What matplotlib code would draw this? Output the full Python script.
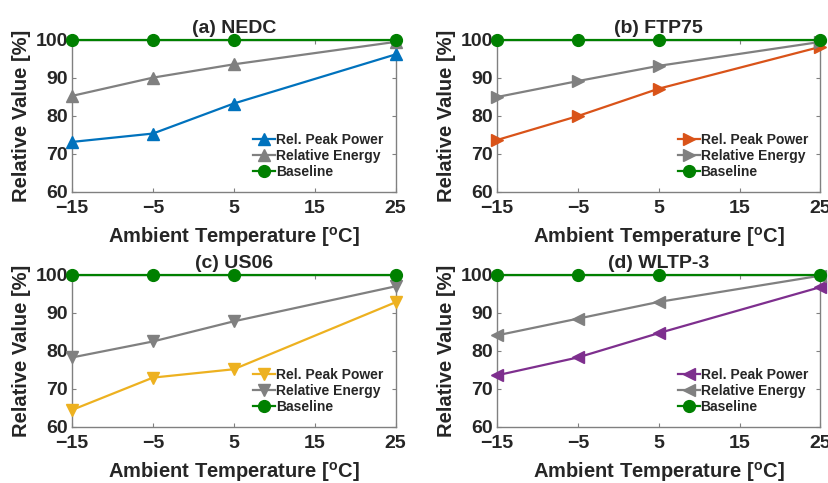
import matplotlib.pyplot as plt

plt.rcParams['font.family'] = ['Liberation Sans', 'DejaVu Sans']
plt.rcParams['font.weight'] = 'bold'
plt.rcParams['mathtext.fontset'] = 'custom'
plt.rcParams['mathtext.bf'] = 'Liberation Sans:bold'
plt.rcParams['mathtext.rm'] = 'Liberation Sans:bold'

temps = [-15, -5, 5, 25]
baseline = [100, 100, 100, 100]

titles = ['(a) NEDC', '(b) FTP75', '(c) US06', '(d) WLTP-3']
peak_power = [
    [73.1, 75.3, 83.2, 96.1],
    [73.6, 79.9, 87.1, 98.1],
    [64.4, 72.9, 75.1, 92.7],
    [73.5, 78.2, 84.6, 96.7],
]
rel_energy = [
    [85.2, 90.0, 93.5, 99.4],
    [84.9, 89.1, 93.1, 99.4],
    [78.2, 82.4, 87.7, 96.9],
    [84.0, 88.4, 92.8, 99.7],
]
peak_colors = ['#0072BD', '#D95319', '#EDB120', '#7E2F8E']
markers = ['^', '>', 'v', '<']

gray = '#808080'
green = '#008000'
txt = '#262626'

fig = plt.figure(figsize=(8.29, 4.83), dpi=100)
lefts = [0.0869, 0.5995, 0.0869, 0.5995]
bottoms = [0.603, 0.603, 0.1166, 0.1166]

for i in range(4):
    ax = fig.add_axes([lefts[i], bottoms[i], 0.3902, 0.3150])
    ax.plot(temps, peak_power[i], color=peak_colors[i], marker=markers[i],
            lw=1.6, ms=9, label='Rel. Peak Power', clip_on=False, zorder=3)
    ax.plot(temps, rel_energy[i], color=gray, marker=markers[i],
            lw=1.6, ms=9, label='Relative Energy', clip_on=False, zorder=3)
    ax.plot(temps, baseline, color=green, marker='o',
            lw=1.6, ms=8.5, label='Baseline', clip_on=False, zorder=4)
    ax.set_xlim(-15, 25)
    ax.set_ylim(60, 100)
    ax.set_xticks([-15, -5, 5, 15, 25])
    ax.set_xticklabels(['\u221215', '\u22125', '5', '15', '25'])
    ax.set_yticks([60, 70, 80, 90, 100])
    for s in ax.spines.values():
        s.set_color(gray)
        s.set_linewidth(1.0)
    ax.tick_params(direction='in', top=True, right=True, color=gray,
                   length=3, labelsize=14, labelcolor=txt)
    ax.tick_params(axis='x', pad=6)
    ax.tick_params(axis='y', pad=3)
    ax.set_title(titles[i], fontsize=14, fontweight='bold', color=txt, pad=5)
    ax.set_ylabel('Relative Value [%]', fontsize=14.5, fontweight='bold',
                  color=txt, labelpad=3)
    ax.set_xlabel(r'Ambient Temperature [$^{\mathbf{o}}$C]', fontsize=14.5,
                  fontweight='bold', color=txt, labelpad=6)
    ax.legend(loc='lower right', frameon=False,
              handlelength=1.6, handletextpad=0.05, labelspacing=0.15,
              borderaxespad=0.5, labelcolor=txt,
              prop={'weight': 'bold', 'size': 10})

fig.savefig('out.png', dpi=100)
